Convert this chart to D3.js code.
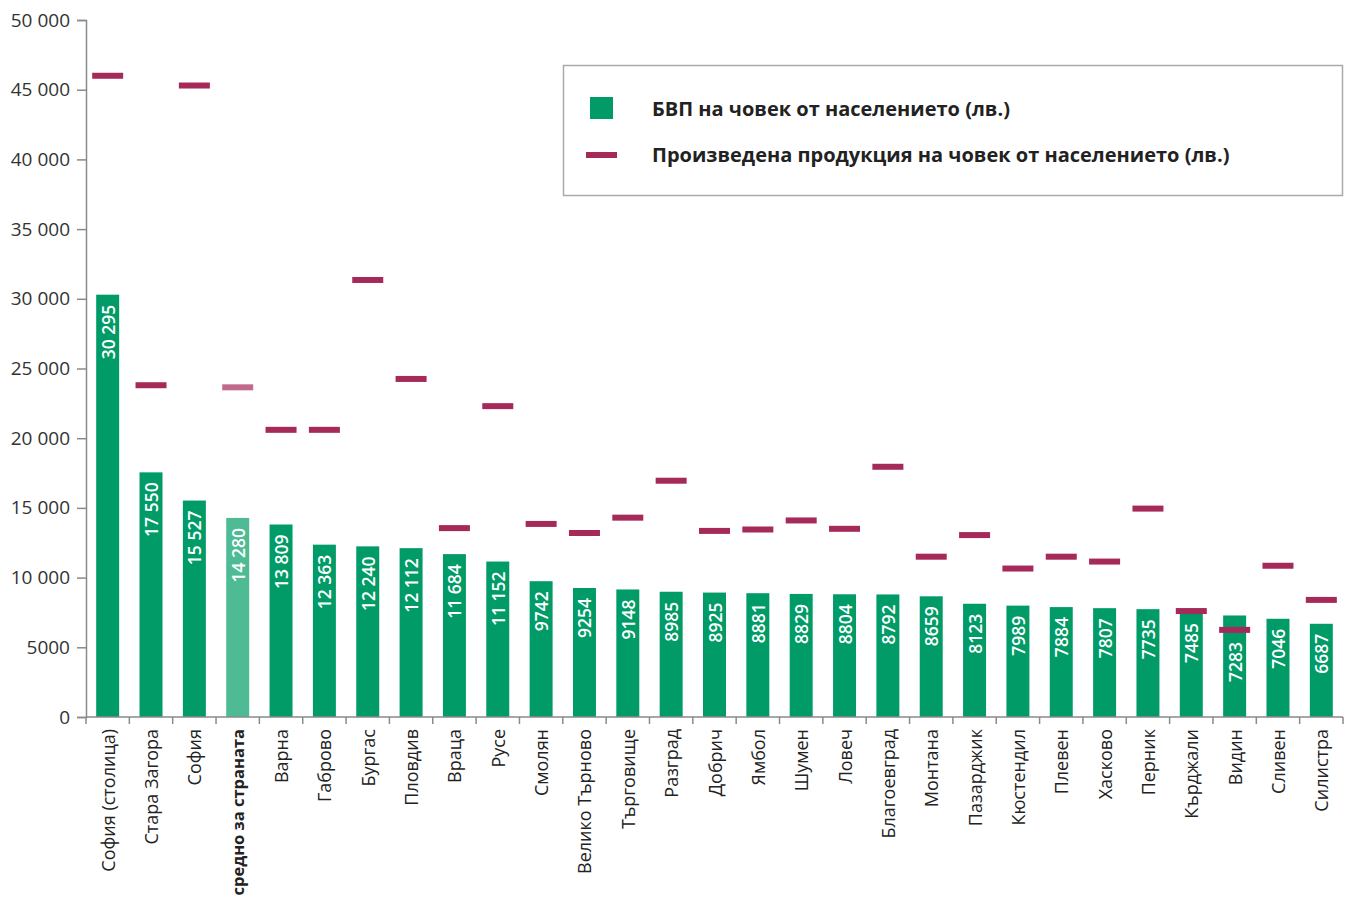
<!DOCTYPE html>
<html>
<head>
<meta charset="utf-8">
<script src="https://cdn.jsdelivr.net/npm/d3@7"></script>
<style>
  html, body { margin: 0; padding: 0; background: #fff; }
  svg { display: block; }
</style>
</head>
<body>
<svg id="chart" width="1346" height="904"></svg>
<script>
const categories = ["София (столица)","Стара Загора","София","средно за страната","Варна","Габрово","Бургас","Пловдив","Враца","Русе","Смолян","Велико Търново","Търговище","Разград","Добрич","Ямбол","Шумен","Ловеч","Благоевград","Монтана","Пазарджик","Кюстендил","Плевен","Хасково","Перник","Кърджали","Видин","Сливен","Силистра"];
const gdpPerCapita = [30295,17550,15527,14280,13809,12363,12240,12112,11684,11152,9742,9254,9148,8985,8925,8881,8829,8804,8792,8659,8123,7989,7884,7807,7735,7485,7283,7046,6687];
const outputPerCapita = [46000,23800,45300,23650,20600,20600,31350,24250,13550,22300,13850,13200,14300,16950,13350,13450,14100,13500,17950,11500,13050,10650,11500,11150,14950,7600,6250,10850,8400];
const yTicks = [0,5000,10000,15000,20000,25000,30000,35000,40000,45000,50000];
const averageCategory = "средно за страната";
const legendLabels = ["БВП на човек от населението (лв.)","Произведена продукция на човек от населението (лв.)"];

const GREEN = "#009b67", GREEN_LIGHT = "#4fbb95";
const WINE = "#a52a5a", WINE_LIGHT = "#c26a8b";
const AXIS = "#8a8a8a";

const svg = d3.select("#chart");
const x0 = 86, x1 = 1343, yTop = 20, yBase = 717;

const x = d3.scaleBand().domain(categories).range([x0, x1]).paddingInner(0.47).paddingOuter(0.235);
const y = d3.scaleLinear().domain([0, 50000]).range([yBase, yTop]);

const fmt = v => v >= 10000 ? d3.format(",")(v).replace(/,/g, " ") : String(v);

const dashW = 31, dashH = 6;
const data = categories.map((c, i) => ({ c, g: gdpPerCapita[i], o: outputPerCapita[i], avg: c === averageCategory }));

// Bars
svg.append("g").selectAll("rect").data(data).join("rect")
  .attr("x", d => x(d.c))
  .attr("y", d => y(d.g))
  .attr("width", x.bandwidth())
  .attr("height", d => yBase - y(d.g))
  .attr("fill", d => d.avg ? GREEN_LIGHT : GREEN);

// Output dashes
svg.append("g").selectAll("rect").data(data).join("rect")
  .attr("x", d => x(d.c) + x.bandwidth() / 2 - dashW / 2)
  .attr("y", d => y(d.o) - dashH / 2)
  .attr("width", dashW)
  .attr("height", dashH)
  .attr("fill", d => d.avg ? WINE_LIGHT : WINE);

// Bar value labels (placed below the dash when the dash crosses the bar top)
const labelStart = d => {
  const top = y(d.g);
  const dashBottom = y(d.o) + dashH / 2;
  return (dashBottom > top && dashBottom < top + 40) ? dashBottom + 9 : top + 10;
};
svg.append("g").selectAll("text").data(data).join("text")
  .attr("transform", d => `translate(${x(d.c) + x.bandwidth() / 2},${labelStart(d)}) rotate(-90)`)
  .attr("text-anchor", "end")
  .attr("dominant-baseline", "central")
  .attr("fill", "#fff")
  .style("font-family", "'Open Sans', sans-serif")
  .style("font-size", "17.5px")
  .style("font-weight", 600)
  .text(d => fmt(d.g));

// Y axis
const yAxis = svg.append("g").attr("transform", `translate(${x0},0)`)
  .call(d3.axisLeft(y).tickValues(yTicks).tickSize(9).tickPadding(7).tickFormat(fmt));
yAxis.select(".domain").attr("stroke", AXIS).attr("stroke-width", 1.5);
yAxis.selectAll(".tick line").attr("stroke", AXIS).attr("stroke-width", 1.5);
yAxis.selectAll(".tick text")
  .attr("fill", "#333")
  .style("font-family", "'Open Sans', sans-serif")
  .style("font-size", "19px");

// X axis
const xAxis = svg.append("g").attr("transform", `translate(0,${yBase})`);
xAxis.append("line").attr("x1", x0).attr("x2", x1).attr("stroke", AXIS).attr("stroke-width", 1.5);
const step = x.step();
const boundaries = d3.range(categories.length + 1).map(i => x0 + i * step);
xAxis.selectAll("line.tk").data(boundaries).join("line").attr("class", "tk")
  .attr("x1", d => d).attr("x2", d => d).attr("y1", 0).attr("y2", 7)
  .attr("stroke", AXIS).attr("stroke-width", 1.5);
xAxis.selectAll("text").data(data).join("text")
  .attr("transform", d => `translate(${x(d.c) + x.bandwidth() / 2},12) rotate(-90)`)
  .attr("text-anchor", "end")
  .attr("dominant-baseline", "central")
  .attr("fill", "#222")
  .style("font-family", "'Open Sans', sans-serif")
  .style("font-size", d => d.avg ? "16.5px" : "18px")
  .style("font-weight", d => d.avg ? 700 : 400)
  .text(d => d.c);

// Legend
const lg = svg.append("g");
lg.append("rect").attr("x", 563.5).attr("y", 65.5).attr("width", 779).attr("height", 130)
  .attr("fill", "#fff").attr("stroke", "#aaa").attr("stroke-width", 1.5);
lg.append("rect").attr("x", 590).attr("y", 97).attr("width", 23).attr("height", 22).attr("fill", GREEN);
lg.append("rect").attr("x", 586).attr("y", 152).attr("width", dashW).attr("height", dashH).attr("fill", WINE);
lg.selectAll("text").data(legendLabels).join("text")
  .attr("x", 652)
  .attr("y", (d, i) => i === 0 ? 108 : 154)
  .attr("dominant-baseline", "central")
  .attr("fill", "#222")
  .style("font-family", "'Open Sans', sans-serif")
  .style("font-size", "20px")
  .style("font-weight", 700)
  .text(d => d);
</script>
</body>
</html>
